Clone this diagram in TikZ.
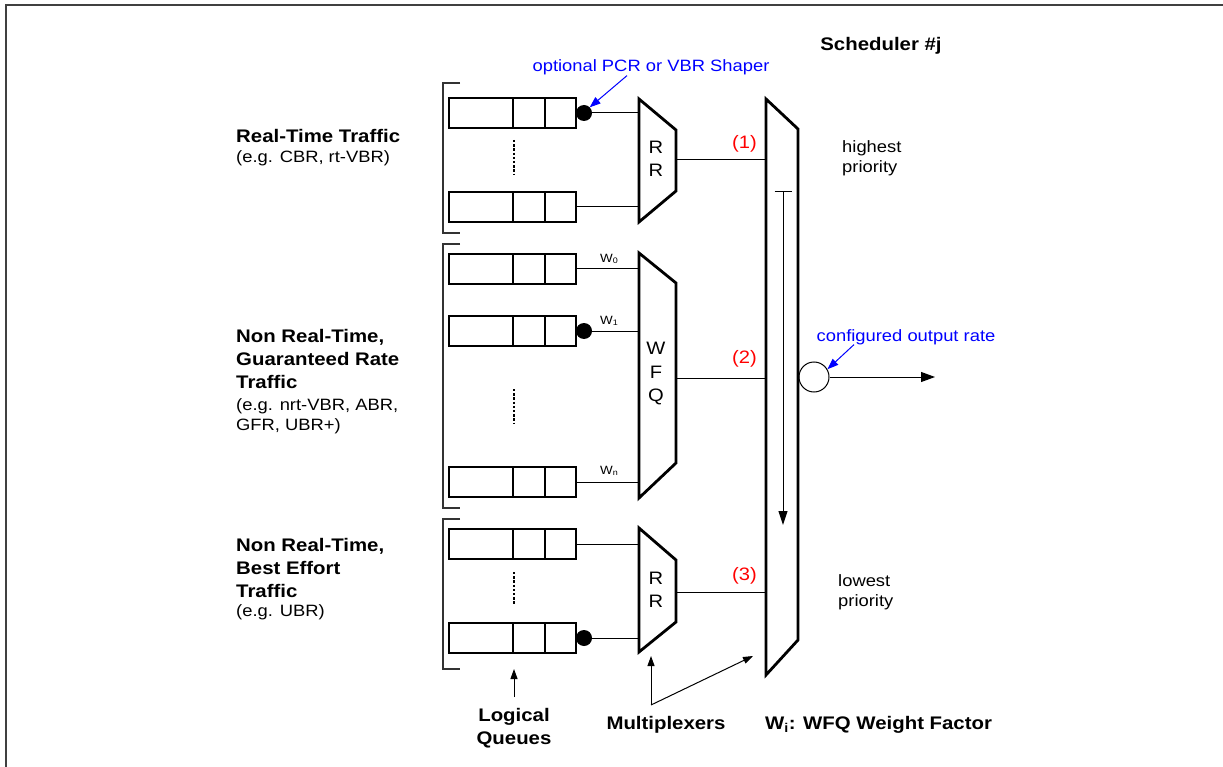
\documentclass[tikz,border=0pt]{standalone}
\usepackage{fontspec}
\setmainfont{Liberation Sans}[FakeStretch=1.12]
\usetikzlibrary{positioning,arrows.meta}

\begin{document}
\begin{tikzpicture}[x=1pt,y=-1pt,
  queue/.style={draw,line width=2.8pt,minimum width=127pt,minimum height=30pt,inner sep=0pt,outer sep=0pt},
  shaper/.style={circle,fill,inner sep=0pt,outer sep=0pt,minimum size=16pt},
  mux/.style={draw,line width=2.8pt,line join=miter},
  wire/.style={line width=1pt},
  group bracket/.style={line width=1.5pt,black!80},
  gap dots/.style={line width=2.8pt,dash pattern=on 2.4pt off 1.8pt},
  head text/.style={font=\fontsize{18.2}{23}\selectfont\bfseries,inner sep=0pt,align=left,anchor=base west},
  sub text/.style={font=\fontsize{16.4}{20}\selectfont,inner sep=0pt,align=left,anchor=base west},
  note text/.style={sub text,text=blue,anchor=base},
  prio text/.style={font=\fontsize{18}{20}\selectfont,text=red,inner sep=0pt},
  weight text/.style={font=\fontsize{12}{13}\selectfont,inner sep=0pt,anchor=base west},
  mux text/.style={font=\fontsize{18}{23.5}\selectfont,inner sep=0pt,align=center},
  note arrow/.style={blue,line width=1pt,-{Triangle[length=11pt,width=8pt]}},
  small arrow/.style={line width=1pt,-{Triangle[length=10pt,width=7pt]}}]
\useasboundingbox (0,0) rectangle (1223,767);
\draw[line width=2pt,black!75] (1223,5) -- (6,5) -- (6,767);

% traffic classes (base = last line)
\node[head text] (rt) at (236,143) {Real-Time Traffic};
\node[sub text] (rt ex) at (236,163) {(e.g. CBR, rt-VBR)};
\node[head text] (gr) at (236,388) {Non Real-Time,\\Guaranteed Rate\\Traffic};
\node[sub text] (gr ex) at (236,430) {(e.g. nrt-VBR, ABR,\\GFR, UBR+)};
\node[head text] (be) at (236,597) {Non Real-Time,\\Best Effort\\Traffic};
\node[sub text] (be ex) at (236,616) {(e.g. UBR)};

% logical queues
\node[queue] (q11) at (512.5,113) {};
\node[queue] (q12) [below=64pt of q11] {};
\node[queue] (q21) at (512.5,269) {};
\node[queue] (q22) [below=32pt of q21] {};
\node[queue] (q23) [below=121pt of q22] {};
\node[queue] (q31) at (512.5,544) {};
\node[queue] (q32) [below=64pt of q31] {};
\foreach \q in {q11,q12,q21,q22,q23,q31,q32}
  \foreach \dx in {64,96}
    \draw[line width=2.8pt] ([xshift=\dx pt]\q.north west) -- ([xshift=\dx pt]\q.south west);
\node[shaper] (s11) [right=0pt of q11] {};
\node[shaper] (s22) [right=0pt of q22] {};
\node[shaper] (s32) [right=0pt of q32] {};

\draw[group bracket] (460,83) -| (443,233) -- (460,233);
\draw[group bracket] (460,244) -| (443,508) -- (460,508);
\draw[group bracket] (460,519) -| (443,669) -- (460,669);
\draw[gap dots] (514,140) -- (514,175);
\draw[gap dots] (514,389) -- (514,423);
\draw[gap dots] (514,572) -- (514,605);

% multiplexers
\draw[mux] (639,99) -- (676,130) -- (676,191) -- (639,222) -- cycle;
\draw[mux] (639,253) -- (676,283) -- (676,463) -- (639,498) -- cycle;
\draw[mux] (639,528) -- (676,560) -- (676,622) -- (639,652) -- cycle;
\node[mux text] (rr1) at (656,159) {R\\R};
\node[mux text] (wfq) at (656,374) {W\\F\\Q};
\node[mux text] (rr3) at (656,590) {R\\R};
\draw[mux] (766,99) -- (798,129) -- (798,640) -- (766,675) -- cycle;
\coordinate (prio top) at (783,191);
\coordinate (prio bottom) at (783,525);
\draw[line width=1pt,{Bar[width=17pt]}-{Triangle[length=14pt,width=9pt]}] (prio top) -- (prio bottom);

\coordinate (rr1 a) at (639,113);
\coordinate (rr1 b) at (639,207);
\coordinate (wfq a) at (639,269);
\coordinate (wfq b) at (639,331);
\coordinate (wfq c) at (639,482);
\coordinate (rr3 a) at (639,544);
\coordinate (rr3 b) at (639,638);
\coordinate (rr1 out) at (676,160);
\coordinate (wfq out) at (676,378);
\coordinate (rr3 out) at (676,592);
\coordinate (sch a) at (766,160);
\coordinate (sch b) at (766,378);
\coordinate (sch c) at (766,592);

\path[draw,wire]
(s11) edge (rr1 a)
(q12) edge (rr1 b)
(q21) edge (wfq a)
(s22) edge (wfq b)
(q23) edge (wfq c)
(q31) edge (rr3 a)
(s32) edge (rr3 b)
(rr1 out) edge node[prio text,pos=0.76,above=7pt] {(1)} (sch a)
(wfq out) edge node[prio text,pos=0.76,above=10pt] {(2)} (sch b)
(rr3 out) edge node[prio text,pos=0.76,above=7pt] {(3)} (sch c)
;

\node[weight text] (w0) at (600,262) {W\textsubscript{0}};
\node[weight text] (w1) at (600,324) {W\textsubscript{1}};
\node[weight text] (wn) at (600,474) {W\textsubscript{n}};

% scheduler output
\node[head text,anchor=base] (sched) at (881,51) {Scheduler \#j};
\node[sub text] (high) at (842,173) {highest\\priority};
\node[sub text] (low) at (838,606) {lowest\\priority};
\node[draw,circle,line width=1pt,minimum size=30pt,inner sep=0pt] (rate) at (814,377) {};
\coordinate (link) at (935,377);
\draw[line width=1pt,-{Triangle[length=14pt,width=10pt]}] (rate) -- (link);

\node[note text] (pcr note) at (651,72) {optional PCR or VBR Shaper};
\node[note text] (rate note) at (906,341) {configured output rate};
\draw[note arrow] ([xshift=-24pt]pcr note.south) -- (s11.north east);
\draw[note arrow] ([xshift=-52pt]rate note.south) -- (rate.30);

% legend
\node[head text,align=center,anchor=base] (lq) at (514,744) {Logical\\Queues};
\coordinate (lq foot) at (514,697);
\coordinate (lq tip) at (514,669);
\draw[small arrow] (lq foot) -- (lq tip);
\node[head text,anchor=base] (mx) at (666,729) {Multiplexers};
\coordinate (mx fork) at (651,705);
\coordinate (mx tip1) at (651,656);
\coordinate (mx tip2) at (753,656);
\draw[small arrow] (mx fork) -- (mx tip1);
\draw[small arrow] (mx fork) -- (mx tip2);
\node[head text] (wi) at (765,729) {W\textsubscript{i}: WFQ Weight Factor};
\end{tikzpicture}
\end{document}
